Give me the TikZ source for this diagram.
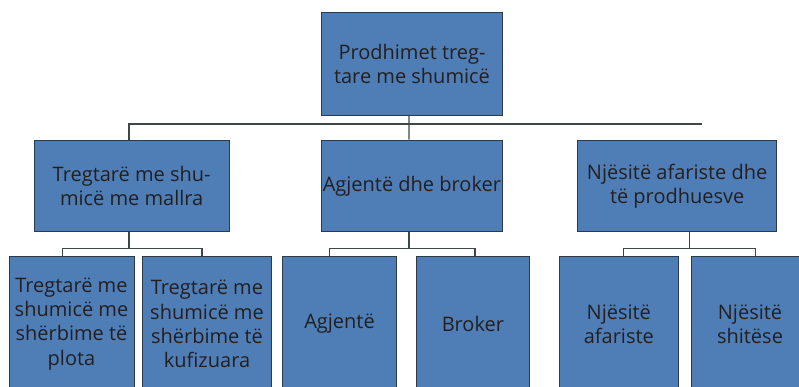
\documentclass[tikz,border=0pt]{standalone}
\usepackage{fontspec}
\setmainfont{Open Sans}
\usetikzlibrary{calc}
\definecolor{boxfill}{HTML}{4F7EB6}
\definecolor{boxline}{HTML}{2B3B4E}
\definecolor{linkline}{HTML}{3B4848}
\definecolor{inktext}{HTML}{231F20}
\begin{document}
\begin{tikzpicture}[x=1pt,y=-1pt,
  unit/.style={draw=boxline, line width=0.9pt, fill=boxfill, inner sep=0pt,
    align=center, text=inktext, font=\fontsize{20}{24.2}\selectfont},
  link/.style={draw=linkline, line width=1.3pt}]
  \useasboundingbox (0,0) rectangle (799,386);
  \fill[white] (0,0) rectangle (799,386);
  \clip (0,0) rectangle (799,386);

  % top of the hierarchy
  \node[unit, minimum width=180.6pt, minimum height=103pt] (root) at (412,64.2)
    {Prodhimet treg-\\tare me shumicë};

  % second level
  \node[unit, minimum width=194.7pt, minimum height=91.7pt] (trade) at (131.7,185.9)
    {Tregtarë me shu-\\micë me mallra};
  \node[unit, minimum width=180.3pt, minimum height=91.7pt] (agents) at (411.9,185.9)
    {Agjentë dhe broker};
  \node[unit, minimum width=199pt, minimum height=91.7pt] (units) at (677.2,185.9)
    {Njësitë afariste dhe\\të prodhuesve};

  % third level
  \node[unit, minimum width=125pt, minimum height=136pt] (full) at (71.5,324)
    {Tregtarë me\\shumicë me\\shërbime të\\plota};
  \node[unit, minimum width=129.4pt, minimum height=136pt] (limited) at (207,324)
    {Tregtarë me\\shumicë me\\shërbime të\\kufizuara};
  \node[unit, minimum width=114.4pt, minimum height=136pt] (agent) at (339.5,324)
    {Agjentë};
  \node[unit, minimum width=113.7pt, minimum height=136pt] (broker) at (472.9,324)
    {Broker};
  \node[unit, minimum width=119pt, minimum height=136pt] (business) at (618.8,324)
    {Njësitë\\afariste};
  \node[unit, minimum width=118pt, minimum height=136pt] (sales) at (750,324)
    {Njësitë\\shitëse};

  % connectors, top level
  \coordinate (railend) at (702,124);
  \draw[link] ([xshift=-3pt]root.south) -- ([xshift=-3pt]agents.north);
  \draw[link] ([xshift=-2.7pt]trade.north) |- (railend);

  % connectors, left group
  \draw[link] ([xshift=-2.7pt]trade.south) -- ++(0,16.6) coordinate (tb);
  \draw[link] ([xshift=-8.8pt]full.north) |- (tb) -| ([xshift=-5pt]limited.north);

  % connectors, middle group
  \draw[link] ([xshift=-3pt]agents.south) -- ++(0,16.6) coordinate (ab);
  \draw[link] ([xshift=-10.2pt]agent.north) |- (ab) -| ([xshift=2pt]broker.north);

  % connectors, right group
  \draw[link] ([xshift=12.1pt]units.south) -- ++(0,16.6) coordinate (ub);
  \draw[link] ([xshift=4.5pt]business.north) |- (ub) -| ([xshift=5.3pt]sales.north);
\end{tikzpicture}
\end{document}
